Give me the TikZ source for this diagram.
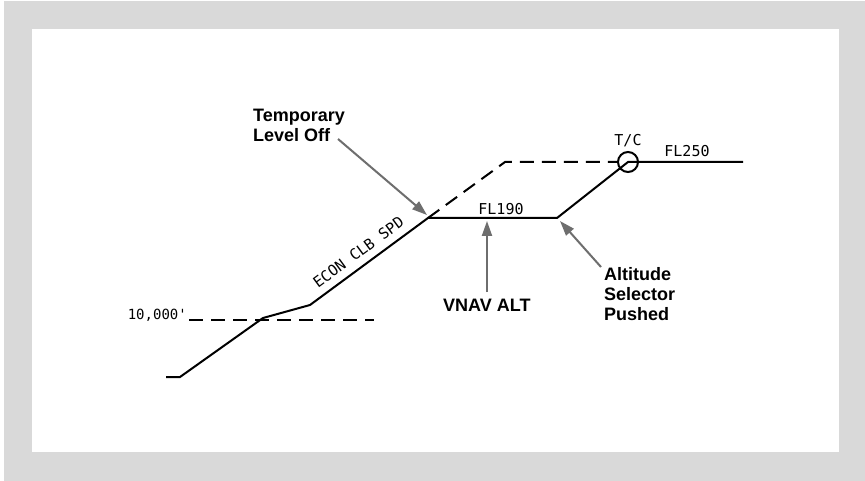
\documentclass[tikz,border=0pt]{standalone}
\usepackage{fontspec}
\setmainfont{Liberation Sans}
\newfontfamily\monofont{DejaVu Sans Mono}
\usetikzlibrary{arrows.meta}
\definecolor{framegray}{RGB}{217,217,217}
\definecolor{arrowgray}{RGB}{110,110,110}
\begin{document}
\begin{tikzpicture}[x=1pt,y=-1pt,
  climbline/.style={line width=2pt, line join=miter},
  dashline/.style={line width=2pt, dash pattern=on 14pt off 8pt},
  pointer/.style={draw=arrowgray, line width=2pt, -{Triangle[length=15pt,width=10pt]}},
  callout/.style={font=\bfseries\fontsize{18}{20}\selectfont, align=left, inner sep=0pt, anchor=north west},
  mono/.style={font=\monofont\fontsize{15}{18}\selectfont, inner sep=0pt, anchor=base},
]
% frame
\useasboundingbox (0,0) rectangle (865,481);
\fill[white] (0,0) rectangle (865,481);
\fill[framegray] (4,1) rectangle (865,481);
\fill[white] (32,29) rectangle (839,452);

% profile points
\coordinate (p0) at (166,377);
\coordinate (p1) at (180,377);
\coordinate (p2) at (263,318);
\coordinate (p3) at (310,305);
\coordinate (p4) at (428,218);
\coordinate (p5) at (557,218);
\coordinate (tc) at (628,162);
\coordinate (p7) at (743,162);
\coordinate (d1) at (505,162);
\coordinate (d2) at (618,162);
\coordinate (ta) at (189,320);
\coordinate (tb) at (374,320);

% 10,000 ft dashed line
\draw[dashline] (ta) -- (tb);
% planned climb (dashed)
\draw[dashline] (p4) -- (d1) -- (d2);
% actual profile
\draw[climbline] (p0) -- (p1) -- (p2) -- (p3) -- (p4) -- (p5) -- (tc) -- (p7);
% T/C circle
\node[draw, circle, line width=2pt, minimum size=20pt, inner sep=0pt] (tcc) at (tc) {};

% mono labels
\node[mono] (fl190) at (501,215) {FL190};
\node[mono] (fl250) at (687,157) {FL250};
\node[mono] (tclbl) at (628,146) {T/C};
\node[mono, anchor=base east, font=\monofont\fontsize{14}{17}\selectfont] (tenk) at (187,319) {10,000'};
\path (p3) -- (p4) node[mono, anchor=south, pos=0.48, sloped, inner sep=0pt, yshift=8pt] (econ) {ECON CLB SPD};

% callouts
\node[callout] (tlo) at (253,109) {Temporary\\Level Off};
\node[callout] (vnav) at (443,299) {VNAV ALT};
\node[callout] (asp) at (604,267) {Altitude\\Selector\\Pushed};

\coordinate (tloA) at (338,139);
\coordinate (tloB) at (427,215);
\coordinate (vnavA) at (487,292);
\coordinate (vnavB) at (487,221);
\coordinate (aspA) at (601,267);
\coordinate (aspB) at (560,221);
\draw[pointer] (tloA) -- (tloB);
\draw[pointer] (vnavA) -- (vnavB);
\draw[pointer] (aspA) -- (aspB);
\end{tikzpicture}
\end{document}
